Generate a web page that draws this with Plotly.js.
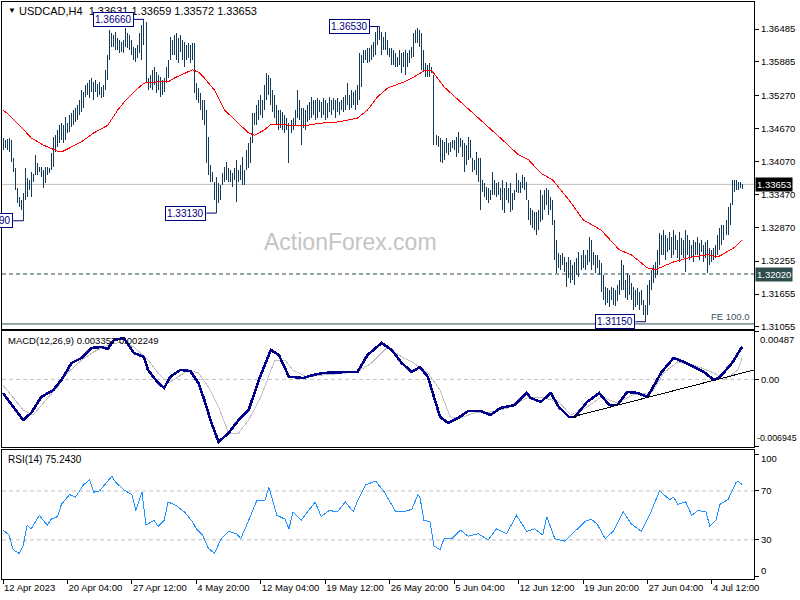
<!DOCTYPE html>
<html><head><meta charset="utf-8">
<script src="https://cdn.plot.ly/plotly-3.0.1.min.js"></script>
<style>html,body{margin:0;padding:0;background:#fff}#chart{width:800px;height:600px}
#chart .js-line{shape-rendering:crispEdges}</style>
</head><body><div id="chart"></div>
<script>
// ---------- DATA ----------
const symbolInfo = "USDCAD,H4&nbsp;&nbsp;1.33631 1.33659 1.33572 1.33653";
const macdInfo = "MACD(12,26,9) 0.003357 0.002249";
const rsiInfo = "RSI(14) 75.2430";
const dateLabels = ["12 Apr 2023","20 Apr 04:00","27 Apr 12:00","4 May 20:00","12 May 04:00","19 May 12:00","26 May 20:00","5 Jun 04:00","12 Jun 12:00","19 Jun 20:00","27 Jun 04:00","4 Jul 12:00"];
const barsPerLabel = 32;

const barHigh = [
1.3450,1.3446,1.3448,1.3450,1.3446,1.3413,1.3395,1.3359,1.3342,1.3337,
1.3350,1.3395,1.3377,1.3373,1.3388,1.3384,1.3419,1.3404,1.3397,1.3397,
1.3392,1.3397,1.3397,1.3395,1.3423,1.3452,1.3455,1.3465,1.3473,1.3477,
1.3473,1.3488,1.3477,1.3492,1.3495,1.3501,1.3505,1.3510,1.3519,1.3537,
1.3534,1.3546,1.3550,1.3556,1.3559,1.3552,1.3556,1.3548,1.3552,1.3543,
1.3546,1.3574,1.3601,1.3647,1.3641,1.3638,1.3643,1.3632,1.3628,1.3625,
1.3628,1.3650,1.3641,1.3638,1.3628,1.3616,1.3614,1.3619,1.3641,1.3656,
1.3666,1.3661,1.3559,1.3565,1.3574,1.3579,1.3570,1.3565,1.3561,1.3556,
1.3559,1.3579,1.3592,1.3634,1.3628,1.3638,1.3641,1.3632,1.3638,1.3628,
1.3625,1.3619,1.3623,1.3619,1.3623,1.3623,1.3550,1.3541,1.3532,1.3519,
1.3519,1.3501,1.3452,1.3401,1.3388,1.3370,1.3379,1.3368,1.3364,1.3386,
1.3397,1.3406,1.3395,1.3392,1.3386,1.3395,1.3410,1.3392,1.3401,1.3415,
1.3392,1.3428,1.3441,1.3452,1.3495,1.3495,1.3510,1.3519,1.3528,1.3519,
1.3546,1.3568,1.3565,1.3559,1.3537,1.3528,1.3510,1.3501,1.3501,1.3497,
1.3492,1.3486,1.3477,1.3483,1.3486,1.3501,1.3537,1.3519,1.3505,1.3505,
1.3501,1.3510,1.3515,1.3525,1.3519,1.3519,1.3523,1.3519,1.3515,1.3523,
1.3519,1.3514,1.3525,1.3519,1.3523,1.3519,1.3523,1.3515,1.3519,1.3525,
1.3528,1.3550,1.3528,1.3537,1.3534,1.3537,1.3546,1.3605,1.3601,1.3610,
1.3610,1.3614,1.3614,1.3619,1.3625,1.3643,1.3652,1.3653,1.3643,1.3634,
1.3643,1.3628,1.3614,1.3614,1.3610,1.3605,1.3597,1.3610,1.3605,1.3607,
1.3610,1.3605,1.3610,1.3616,1.3641,1.3647,1.3650,1.3647,1.3641,1.3610,
1.3587,1.3583,1.3587,1.3579,1.3565,1.3455,1.3454,1.3450,1.3446,1.3443,
1.3450,1.3441,1.3443,1.3446,1.3446,1.3452,1.3461,1.3450,1.3446,1.3441,
1.3437,1.3452,1.3446,1.3413,1.3410,1.3424,1.3413,1.3413,1.3373,1.3368,
1.3361,1.3359,1.3355,1.3388,1.3373,1.3368,1.3370,1.3359,1.3373,1.3359,
1.3370,1.3359,1.3368,1.3350,1.3355,1.3386,1.3373,1.3370,1.3383,1.3379,
1.3370,1.3337,1.3322,1.3319,1.3315,1.3315,1.3319,1.3355,1.3346,1.3355,
1.3359,1.3355,1.3342,1.3337,1.3301,1.3264,1.3241,1.3237,1.3241,1.3233,
1.3224,1.3233,1.3228,1.3219,1.3224,1.3232,1.3242,1.3237,1.3246,1.3237,
1.3246,1.3270,1.3264,1.3242,1.3237,1.3237,1.3228,1.3222,1.3201,1.3179,
1.3177,1.3173,1.3179,1.3177,1.3173,1.3182,1.3191,1.3228,1.3219,1.3191,
1.3204,1.3201,1.3186,1.3179,1.3173,1.3177,1.3170,1.3173,1.3155,1.3146,
1.3182,1.3191,1.3210,1.3219,1.3224,1.3246,1.3277,1.3273,1.3282,1.3273,
1.3268,1.3279,1.3270,1.3282,1.3273,1.3264,1.3279,1.3268,1.3264,1.3282,
1.3273,1.3264,1.3255,1.3264,1.3260,1.3270,1.3259,1.3264,1.3255,1.3260,
1.3264,1.3250,1.3246,1.3250,1.3255,1.3273,1.3286,1.3292,1.3292,1.3301,
1.3324,1.3332,1.3373,1.3373,1.3373,1.3370,1.3370,1.3366];

const barLow = [
1.3428,1.3432,1.3428,1.3424,1.3406,1.3388,1.3355,1.3332,1.3324,1.3319,
1.3299,1.3337,1.3342,1.3355,1.3342,1.3370,1.3383,1.3383,1.3388,1.3379,
1.3359,1.3368,1.3383,1.3386,1.3392,1.3397,1.3424,1.3433,1.3441,1.3446,
1.3441,1.3446,1.3459,1.3461,1.3470,1.3473,1.3479,1.3483,1.3492,1.3497,
1.3505,1.3525,1.3528,1.3523,1.3534,1.3519,1.3534,1.3525,1.3528,1.3523,
1.3525,1.3537,1.3556,1.3592,1.3616,1.3616,1.3610,1.3610,1.3605,1.3607,
1.3605,1.3616,1.3614,1.3610,1.3601,1.3592,1.3588,1.3596,1.3605,1.3592,
1.3619,1.3550,1.3537,1.3541,1.3537,1.3546,1.3532,1.3537,1.3525,1.3528,
1.3534,1.3550,1.3559,1.3592,1.3601,1.3601,1.3592,1.3587,1.3607,1.3592,
1.3579,1.3592,1.3596,1.3587,1.3592,1.3532,1.3519,1.3514,1.3501,1.3483,
1.3473,1.3404,1.3383,1.3370,1.3370,1.3337,1.3313,1.3332,1.3337,1.3364,
1.3370,1.3373,1.3370,1.3370,1.3361,1.3373,1.3333,1.3370,1.3373,1.3364,
1.3364,1.3392,1.3395,1.3404,1.3441,1.3473,1.3473,1.3483,1.3492,1.3486,
1.3501,1.3519,1.3528,1.3510,1.3497,1.3486,1.3473,1.3465,1.3468,1.3465,
1.3459,1.3465,1.3404,1.3459,1.3465,1.3473,1.3486,1.3483,1.3437,1.3468,
1.3465,1.3479,1.3483,1.3486,1.3492,1.3483,1.3486,1.3497,1.3486,1.3492,
1.3483,1.3486,1.3497,1.3492,1.3501,1.3486,1.3497,1.3492,1.3501,1.3497,
1.3501,1.3510,1.3501,1.3505,1.3510,1.3501,1.3510,1.3519,1.3543,1.3587,
1.3592,1.3587,1.3588,1.3592,1.3597,1.3601,1.3619,1.3628,1.3601,1.3610,
1.3610,1.3601,1.3597,1.3583,1.3583,1.3579,1.3579,1.3583,1.3568,1.3579,
1.3565,1.3579,1.3587,1.3596,1.3597,1.3623,1.3623,1.3616,1.3574,1.3570,
1.3561,1.3561,1.3561,1.3568,1.3437,1.3437,1.3433,1.3406,1.3404,1.3410,
1.3423,1.3419,1.3424,1.3432,1.3428,1.3415,1.3423,1.3433,1.3415,1.3388,
1.3401,1.3410,1.3413,1.3388,1.3392,1.3383,1.3370,1.3319,1.3352,1.3342,
1.3337,1.3332,1.3337,1.3346,1.3346,1.3342,1.3346,1.3337,1.3319,1.3313,
1.3337,1.3332,1.3315,1.3319,1.3337,1.3352,1.3350,1.3350,1.3359,1.3355,
1.3337,1.3301,1.3292,1.3286,1.3282,1.3273,1.3282,1.3297,1.3301,1.3319,
1.3328,1.3310,1.3319,1.3292,1.3228,1.3204,1.3213,1.3210,1.3219,1.3206,
1.3179,1.3195,1.3186,1.3191,1.3182,1.3201,1.3197,1.3210,1.3213,1.3210,
1.3219,1.3224,1.3210,1.3219,1.3204,1.3213,1.3201,1.3170,1.3155,1.3146,
1.3150,1.3141,1.3155,1.3146,1.3144,1.3152,1.3164,1.3173,1.3173,1.3159,
1.3155,1.3164,1.3155,1.3137,1.3141,1.3146,1.3137,1.3146,1.3128,1.3115,
1.3128,1.3146,1.3173,1.3186,1.3195,1.3201,1.3219,1.3237,1.3237,1.3228,
1.3242,1.3246,1.3232,1.3237,1.3246,1.3232,1.3224,1.3237,1.3232,1.3206,
1.3237,1.3228,1.3232,1.3224,1.3237,1.3237,1.3228,1.3242,1.3224,1.3232,
1.3204,1.3219,1.3224,1.3228,1.3232,1.3237,1.3246,1.3255,1.3264,1.3273,
1.3273,1.3292,1.3328,1.3352,1.3355,1.3355,1.3359,1.3357];

// Moving average (red)
const maIdx = [0,2,9,14,20,27,30,39,45,52,57,61,65,70,77,82,85,91,94,97,100,105,110,115,122,125,130,133,142,149,158,166,176,181,186,191,199,204,209,213,219,225,232,241,249,256,261,267,273,281,288,297,306,312,320,324,333,342,350,355,363,367];
const maVal = [1.3501,1.3495,1.3470,1.3450,1.3437,1.3426,1.3426,1.3443,1.3459,1.3473,1.3501,1.3519,1.3534,1.3550,1.3552,1.3552,1.3559,1.3570,1.3574,1.3570,1.3559,1.3537,1.3501,1.3483,1.3459,1.3455,1.3465,1.3475,1.3473,1.3472,1.3477,1.3479,1.3486,1.3501,1.3525,1.3541,1.3552,1.3561,1.3572,1.3572,1.3543,1.3523,1.3501,1.3470,1.3443,1.3419,1.3410,1.3386,1.3373,1.3337,1.3301,1.3282,1.3246,1.3237,1.3213,1.3210,1.3224,1.3233,1.3237,1.3233,1.3250,1.3264];

// MACD main line
const macdIdx = [0,5,10,14,19,25,29,34,39,44,49,52,55,60,65,70,72,77,80,83,88,93,97,100,103,107,112,117,122,127,133,137,142,144,149,154,159,171,176,181,188,193,198,203,207,211,214,217,221,226,231,237,242,247,254,260,262,267,272,276,281,284,290,296,301,305,310,315,320,327,333,338,343,348,353,356,362,367];
const macdVal = [-0.00140,-0.00283,-0.00417,-0.00345,-0.00181,-0.00109,-0.00006,0.00168,0.00220,0.00323,0.00333,0.00312,0.00405,0.00425,0.00271,0.00230,0.00097,-0.00037,-0.00088,0.00025,0.00097,0.00086,-0.00037,-0.00212,-0.00417,-0.00643,-0.00551,-0.00417,-0.00314,-0.00006,0.00302,0.00251,0.00025,0.00025,0.00014,0.00045,0.00066,0.00076,0.00076,0.00251,0.00374,0.00302,0.00168,0.00076,0.00127,0.00025,-0.00181,-0.00386,-0.00448,-0.00397,-0.00325,-0.00325,-0.00366,-0.00294,-0.00263,-0.00140,-0.00191,-0.00232,-0.00140,-0.00284,-0.00386,-0.00386,-0.00232,-0.00140,-0.00263,-0.00263,-0.00129,-0.00140,-0.00181,0.00076,0.00220,0.00179,0.00127,0.00076,-0.00006,0.00025,0.00168,0.003357];
// MACD signal line
const sigIdx = [0,5,10,15,20,27,32,39,45,52,59,65,72,77,82,87,92,97,102,107,112,117,122,128,135,140,144,151,159,176,183,191,198,204,211,217,222,227,234,242,251,261,269,276,282,290,297,305,313,322,328,335,343,353,358,365,367];
const sigVal = [-0.00058,-0.00181,-0.00314,-0.00366,-0.00242,-0.00078,0.00066,0.00199,0.00282,0.00353,0.00384,0.00333,0.00199,0.00066,-0.00037,0.00025,0.00097,0.00066,-0.00078,-0.00284,-0.00551,-0.00551,-0.00417,-0.00181,0.00199,0.00199,0.00097,0.00025,0.00045,0.00076,0.00168,0.00333,0.00230,0.00168,0.00066,-0.00109,-0.00386,-0.00397,-0.00345,-0.00335,-0.00294,-0.00181,-0.00191,-0.00232,-0.00366,-0.00284,-0.00181,-0.00242,-0.00160,-0.00140,0.00066,0.00179,0.00148,0.00066,-0.00006,0.00097,0.002249];
// MACD trendline (drawn object)
const trendIdx = [282.5, 373];
const trendVal = [-0.00386, 0.00097];

// RSI(14)
const rsiIdx = [0,3,5,8,10,12,14,18,22,24,27,29,33,36,40,43,45,48,54,56,60,64,66,69,71,75,77,80,82,86,90,94,96,99,102,105,108,112,116,118,121,126,130,132,136,140,142,144,148,155,158,162,166,170,174,176,180,185,189,193,195,199,203,206,207,209,212,214,217,219,223,227,231,236,241,245,250,255,260,264,268,270,274,279,284,289,292,295,299,303,308,312,317,321,326,331,333,335,339,342,345,349,351,354,356,360,364,365,367];
const rsiVal = [38,34,22,19,25,42,39,50,42,47,49,59,67,65,75,79,69,70,82,77,71,67,54,69,42,46,41,46,61,58,53,45,39,34,23,19,30,37,35,31,42,62,62,73,50,47,39,53,46,61,49,54,53,61,53,62,75,78,70,59,53,53,55,67,65,46,45,25,22,31,31,38,33,35,30,39,35,50,37,39,34,49,31,29,37,45,47,43,31,37,53,43,37,50,70,63,65,59,61,50,54,53,41,46,59,63,77,78,75.243];

// Price levels, pivots, axes
const lastClose = 1.33653;
const supportLevel = 1.32020;
const fe100Level = 1.3111;
const pivotIdx = [10, 70, 106, 187, 319];
const pivotVal = [1.3299, 1.3666, 1.3313, 1.3653, 1.3115];
const priceTicks = [1.36485,1.35885,1.35270,1.34670,1.34070,1.33470,1.32870,1.32255,1.31655,1.31055];
const macdTop = 0.00487, macdBottom = -0.006945;
const rsiTicks = [100, 70, 30, 0];
const rsiLevels = [70, 30];

// ---------- BUILD ----------
const bx = [], by = [];
for (let i = 0; i < barHigh.length; i++) { bx.push(i, i, null); by.push(barLow[i], barHigh[i], null); }

const FONT = "Liberation Sans, Arial, sans-serif";
const PX = x => (x - 2) / 752;
const PY = y => (579 - y) / 577;
const connectorBars = 5;

const traces = [
  {type:'scatter', mode:'lines', x:bx, y:by, xaxis:'x3', yaxis:'y3', line:{color:'#143a5a', width:1}, hoverinfo:'skip'},
  {type:'scatter', mode:'lines', x:maIdx, y:maVal, xaxis:'x3', yaxis:'y3', line:{color:'#ff0000', width:1}, hoverinfo:'skip'},
  {type:'scatter', mode:'lines', x:sigIdx, y:sigVal, xaxis:'x2', yaxis:'y2', line:{color:'#c0c0c0', width:1}, hoverinfo:'skip'},
  {type:'scatter', mode:'lines', x:macdIdx, y:macdVal, xaxis:'x2', yaxis:'y2', line:{color:'#00008b', width:2.6}, hoverinfo:'skip'},
  {type:'scatter', mode:'lines', x:trendIdx, y:trendVal, xaxis:'x2', yaxis:'y2', line:{color:'#000000', width:1}, hoverinfo:'skip'},
  {type:'scatter', mode:'lines', x:rsiIdx, y:rsiVal, xaxis:'x', yaxis:'y', line:{color:'#1e90ff', width:1}, hoverinfo:'skip'}
];

const xr = [-0.5, 372.9];
const baseX = {range:xr, showgrid:false, zeroline:false, showline:true, mirror:true, linecolor:'#000', linewidth:1};
const tf = {family:FONT, size:9.5, color:'#000'};
const baseY = {side:'right', showgrid:false, zeroline:false, showline:true, mirror:true, linecolor:'#000', linewidth:1,
  ticks:'outside', ticklen:4, tickcolor:'#000', tickfont:tf};

const layout = {
  width:800, height:600, paper_bgcolor:'#fff', plot_bgcolor:'#fff', showlegend:false,
  margin:{l:2, r:46, t:2, b:21},
  xaxis: Object.assign({}, baseX, {anchor:'y', tickvals:dateLabels.map((d,k)=>k*barsPerLabel), ticktext:dateLabels, tickangle:0,
    ticks:'outside', ticklen:4, tickcolor:'#000', ticklabelposition:'outside right', tickfont:tf}),
  xaxis2: Object.assign({}, baseX, {anchor:'y2', matches:'x', showticklabels:false, ticks:''}),
  xaxis3: Object.assign({}, baseX, {anchor:'y3', matches:'x', showticklabels:false, ticks:''}),
  yaxis: Object.assign({}, baseY, {domain:[0, 0.2236], range:[-2, 103.5], tickvals:rsiTicks, ticktext:['','70','30',''], anchor:'x'}),
  yaxis2: Object.assign({}, baseY, {domain:[0.2288, 0.4298], range:[macdBottom, 0.00497], tickvals:[macdTop, 0, macdBottom], ticktext:['','0.00',''], anchor:'x2'}),
  yaxis3: Object.assign({}, baseY, {domain:[0.4333, 1], range:[1.31018, 1.36977], tickvals:priceTicks, ticktext:priceTicks.map(v=>v.toFixed(5)), anchor:'x3'}),
  shapes: [
    {type:'line', xref:'x3 domain', yref:'y3', x0:0, x1:1, y0:lastClose, y1:lastClose, line:{color:'#c0c0c0', width:1}, layer:'below'},
    {type:'line', xref:'x3 domain', yref:'y3', x0:0, x1:1, y0:supportLevel, y1:supportLevel, line:{color:'#2f4f4f', width:1, dash:'4px,3px'}},
    {type:'line', xref:'x3 domain', yref:'y3', x0:0, x1:1, y0:fe100Level, y1:fe100Level, line:{color:'#2f4f4f', width:1}},
    {type:'line', xref:'x2 domain', yref:'y2', x0:0, x1:1, y0:0, y1:0, line:{color:'#c0c0c0', width:1, dash:'4px,3px'}, layer:'below'},
    ...rsiLevels.map(v => ({type:'line', xref:'x domain', yref:'y', x0:0, x1:1, y0:v, y1:v, line:{color:'#c0c0c0', width:1, dash:'4px,3px'}, layer:'below'})),
    ...pivotIdx.map((ix,k) => ({type:'line', xref:'x3', yref:'y3', x0:ix-connectorBars, x1:ix, y0:pivotVal[k], y1:pivotVal[k], line:{color:'#000080', width:1}}))
  ],
  annotations: [
    {xref:'paper', yref:'paper', x:PX(6), y:PY(11), text:'▼', showarrow:false, xanchor:'left', yanchor:'middle', font:{family:FONT, size:8, color:'#000'}},
    {xref:'paper', yref:'paper', x:PX(17), y:PY(11), text:symbolInfo, showarrow:false, xanchor:'left', yanchor:'middle', font:{family:FONT, size:11, color:'#000'}},
    {xref:'paper', yref:'paper', x:PX(6), y:PY(341), text:macdInfo, showarrow:false, xanchor:'left', yanchor:'middle', font:{family:FONT, size:9.5, color:'#000'}},
    {xref:'paper', yref:'paper', x:PX(6), y:PY(459), text:rsiInfo, showarrow:false, xanchor:'left', yanchor:'middle', font:{family:FONT, size:10, color:'#000'}},
    {xref:'paper', yref:'paper', x:PX(350), y:PY(242), text:'ActionForex.com', showarrow:false, xanchor:'center', yanchor:'middle', font:{family:FONT, size:23, color:'#c4c4c4'}},
    {xref:'paper', yref:'y3', x:1, y:fe100Level, text:'FE 100.0', showarrow:false, xanchor:'right', yanchor:'bottom', xshift:-2, font:{family:FONT, size:9.5, color:'#3d5060'}},
    {xref:'paper', yref:'y3', x:1, y:lastClose, text:lastClose.toFixed(5), showarrow:false, xanchor:'left', yanchor:'middle', xshift:1, bgcolor:'#000', borderpad:1, font:{family:FONT, size:9.5, color:'#fff'}},
    {xref:'paper', yref:'y3', x:1, y:supportLevel, text:supportLevel.toFixed(5), showarrow:false, xanchor:'left', yanchor:'middle', xshift:1, bgcolor:'#2f4f4f', borderpad:1, font:{family:FONT, size:9.5, color:'#fff'}},
    {xref:'paper', yref:'y2 domain', x:1, y:1, text:macdTop.toFixed(5), showarrow:false, xanchor:'left', yanchor:'top', xshift:4, yshift:-1, font:tf},
    {xref:'paper', yref:'y2 domain', x:1, y:0, text:String(macdBottom), showarrow:false, xanchor:'left', yanchor:'bottom', xshift:1, yshift:2, font:{family:FONT, size:8.8, color:'#000'}},
    {xref:'paper', yref:'y domain', x:1, y:1, text:'100', showarrow:false, xanchor:'left', yanchor:'top', xshift:5, yshift:-1, font:tf},
    {xref:'paper', yref:'y domain', x:1, y:0, text:'0', showarrow:false, xanchor:'left', yanchor:'bottom', xshift:5, yshift:1, font:tf},
    ...pivotIdx.map((ix,k) => ({xref:'x3', yref:'y3', x:ix-connectorBars, y:pivotVal[k], text:pivotVal[k].toFixed(5), showarrow:false,
      xanchor:'right', yanchor:'middle', bgcolor:'#fff', bordercolor:'#000080', borderwidth:1, borderpad:1, font:{family:FONT, size:10, color:'#000080'}}))
  ]
};

Plotly.newPlot('chart', traces, layout, {staticPlot:true, displayModeBar:false});
</script>
</body></html>
